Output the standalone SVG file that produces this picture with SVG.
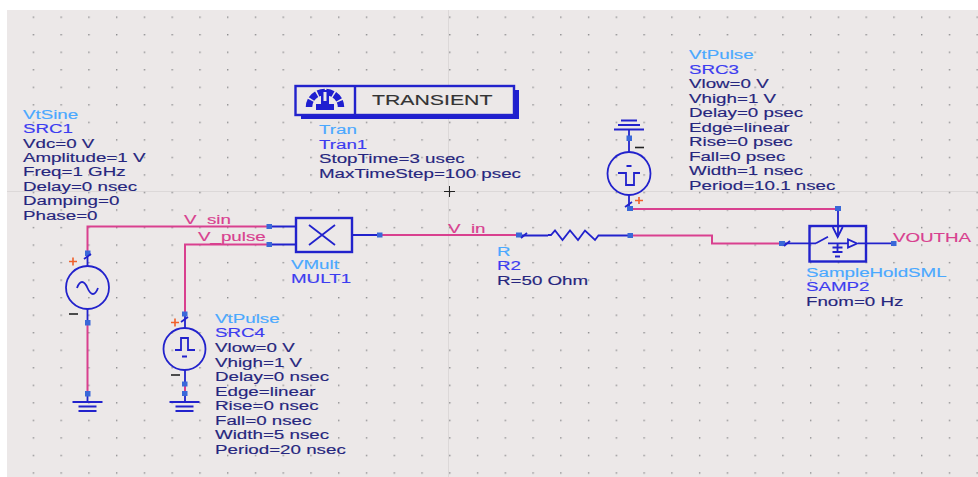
<svg xmlns="http://www.w3.org/2000/svg" width="978" height="477" viewBox="0 0 978 477">
<style>
text{font-family:"Liberation Sans",Arial,sans-serif;font-size:13.5px;fill:#26267e;stroke:#26267e;stroke-width:.15px;transform-box:fill-box;transform-origin:0 0;transform:scaleX(1.39)}
.t{fill:#4aa8ff;stroke:#4aa8ff}.n{fill:#3c3cf0;stroke:#3c3cf0}.w{fill:#d8408f;stroke:#d8408f}
.c{fill:none;stroke:#2222cc;stroke-width:1.8}.th{stroke-width:2.4;fill:#ece8e8}
.p{fill:none;stroke:#d9408f;stroke-width:2}
.b{fill:#3a68d8}.plus{stroke:#f0602a;stroke-width:1.6;fill:none}.minus{stroke:#222;stroke-width:1.6}
</style>
<defs>
<pattern id="grid" x="32.7" y="16.5" width="27.76" height="17.53" patternUnits="userSpaceOnUse"><rect x="0" y="0" width="1.4" height="1.4" fill="#8a8a8c"/></pattern>
<g id="gnd"><path class="c" d="M-15 0H15M-9 4.500H9M-9 9H9"/></g>
<g id="gndr"><path class="c" d="M-15 0H15M-11 -4.500H11M-8 -9H8"/></g>
</defs>
<rect width="978" height="477" fill="#fff"/>
<rect x="7" y="10" width="971" height="467" fill="#ece8e8"/>
<path d="M7 191.500H978M448.500 10V477" stroke="#dcd8d8" fill="none"/>
<rect x="7" y="10" width="971" height="467" fill="url(#grid)"/>
<g id="connectors">
<path class="p" d="M87.500 323V393"/>
<path class="p" d="M87.500 253V226.500H268M185 314V244.500H268M185 386V393"/>
<path class="p" d="M382 235H518M630 235.500H712V243.500H780"/>
<path class="p" d="M630 209H838"/>
<path class="c" d="M87.500 253V266M87.500 309V323M87.500 393V402M268 226.500H296M268 244.500H296M352 235H380M518 235.500H548M600 235.500H630M185 314V328M185 370V384M185 393V402M629 129.500V152M629 195V208M838 208V237M780 243.300H816M858 243.300H895"/>
<path class="b" d="M85 250.500h5.500v5.500h-5.500zM85 320h5.500v5.500h-5.500zM85 391h5.500v5.500h-5.500zM266.500 224h5.500v5h-5.500zM266.500 242h5.500v5h-5.500zM377 232.500h5.500v5h-5.500zM516 232.500h6v5h-6zM627.500 233h5.500v5h-5.500zM182 311.500h5.500v5h-5.500zM182 381.500h5.500v5h-5.500zM182 391h5.500v5h-5.500zM626.500 135.500h5.500v5.500h-5.500zM627 206h6v5h-6zM835 206h6v5h-6zM779 241h6v5h-6zM891 241h5.500v5h-5.500z"/>
</g>
<g id="SRC1">
<circle class="c" cx="87.500" cy="287.500" r="21.500"/>
<path class="c" d="M77 288c3-8 7-8 10.500 0s7.500 8 10.500 0"/>
<path class="c" d="M84 259l7-5"/>
<path class="plus" d="M69 261.500h8M73 257.500v8"/><path class="minus" d="M69 314h9"/>
<use href="#gnd" x="87.500" y="402"/>
<text class="t" x="23" y="119">VtSine</text><text class="n" x="23" y="133.500">SRC1</text>
<text x="23" y="148">Vdc=0 V</text><text x="23" y="162.500">Amplitude=1 V</text><text x="23" y="176">Freq=1 GHz</text><text x="23" y="191">Delay=0 nsec</text><text x="23" y="205">Damping=0</text><text x="23" y="220">Phase=0</text>
</g>
<g id="SRC4">
<circle class="c" cx="184.500" cy="349" r="21"/>
<path class="c" d="M175 350h6v-12h7v12h7M182 356.500h5"/>
<path class="c" d="M181 322l7-5"/>
<path class="plus" d="M171 322.500h8M175 318.500v8"/><path class="minus" d="M171 375h9"/>
<use href="#gnd" x="184.500" y="402"/>
<text class="t" x="215" y="323">VtPulse</text><text class="n" x="215" y="337">SRC4</text>
<text x="215" y="352">Vlow=0 V</text><text x="215" y="367">Vhigh=1 V</text><text x="215" y="381">Delay=0 nsec</text><text x="215" y="396">Edge=linear</text><text x="215" y="410">Rise=0 nsec</text><text x="215" y="425">Fall=0 nsec</text><text x="215" y="439">Width=5 nsec</text><text x="215" y="454">Period=20 nsec</text>
</g>
<g id="MULT1">
<rect class="c th" x="296" y="218" width="56" height="34"/>
<path class="c" d="M309 225l26 20M335 225l-26 20"/>
<text class="t" x="291" y="269">VMult</text><text class="n" x="291" y="283">MULT1</text>
<text class="w" x="184" y="224">V_sin</text><text class="w" x="198" y="241.500">V_pulse</text>
</g>
<g id="Tran1">
<rect x="301" y="90" width="218" height="29" fill="#1f1fd0"/>
<rect class="c th" x="295.500" y="86" width="218.500" height="29"/>
<path class="c" d="M355 86V115" style="stroke-width:2.400"/>
<path d="M309 107a16 15 0 0 1 32 0" fill="none" stroke="#1f1fd0" stroke-width="6.500" stroke-dasharray="7 1.500"/>
<path d="M321 90h8v14h-8zM316 104h18v6h-18z" fill="#1f1fd0"/><path d="M323.500 92h3v9h-3z" fill="#ece8e8"/>
<text style="font-size:15.300px;fill:#333;stroke:#333" x="372" y="105">TRANSIENT</text>
<text class="t" x="319" y="134">Tran</text><text class="n" x="319" y="149">Tran1</text>
<text x="319" y="163">StopTime=3 usec</text><text x="319" y="178">MaxTimeStep=100 psec</text>
<path d="M444 191.500h11M449.500 186v11" stroke="#222" fill="none"/>
</g>
<g id="R2">
<path class="c" d="M548 235H551l4-4.500 7.500 9.500 7.500-9.500 8 9.500 7-9.500 10 9.500 3.500-4.500H600M521 238l6-5"/>
<text class="w" x="448" y="233">V_in</text>
<text class="t" x="497" y="256">R</text><text class="n" x="497" y="270">R2</text><text x="497" y="285">R=50 Ohm</text>
</g>
<g id="SRC3">
<use href="#gndr" x="629" y="129.500"/>
<circle class="c" cx="629" cy="173.500" r="21.500"/>
<path class="c" d="M618 173h8v12h8v-12h6M626.500 166h5"/>
<path class="c" d="M625 207l7-5"/>
<path class="plus" d="M635 200.500h8M639 197v7"/><path class="minus" d="M635 147.500h9"/>
<text class="t" x="689" y="59">VtPulse</text><text class="n" x="689" y="74">SRC3</text>
<text x="689" y="88">Vlow=0 V</text><text x="689" y="103">Vhigh=1 V</text><text x="689" y="117">Delay=0 psec</text><text x="689" y="132">Edge=linear</text><text x="689" y="146">Rise=0 psec</text><text x="689" y="161">Fall=0 psec</text><text x="689" y="175">Width=1 nsec</text><text x="689" y="190">Period=10.1 nsec</text>
</g>
<g id="SAMP2">
<rect class="c th" x="809.500" y="226" width="56.500" height="35.500" style="fill:none"/>
<path class="c" d="M816 243.300l12-6.500M828 243.300H848M848 239.500v8l9-4zM832.700 227l5 10 5-10M837.500 243.300v8M832.500 247.500h10M832.500 252h10M835 256.500h5"/>
<text class="t" x="806" y="277">SampleHoldSML</text><text class="n" x="806" y="291">SAMP2</text><text x="806" y="306">Fnom=0 Hz</text>
<path class="c" d="M784 246l6-5"/>
<text class="w" x="893" y="241.700">VOUTHA</text>
</g>
</svg>
